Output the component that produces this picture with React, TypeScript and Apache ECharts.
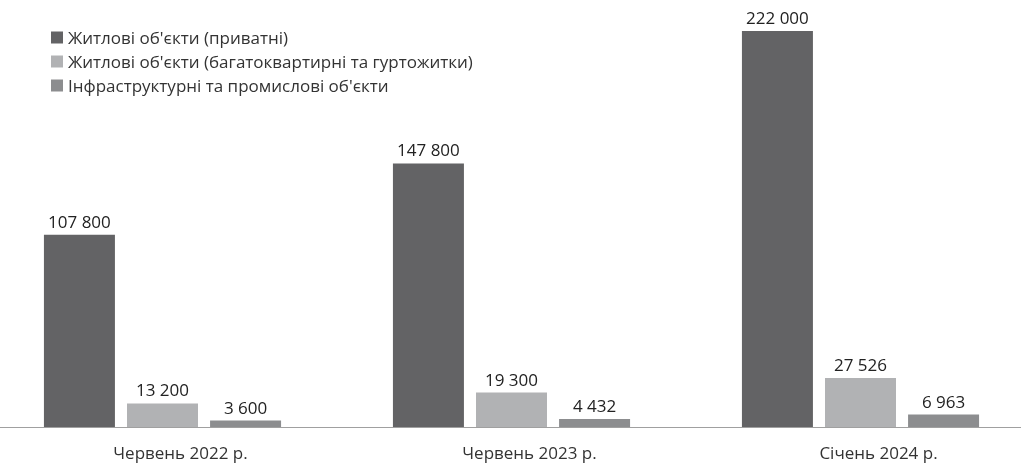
import React, { useEffect, useRef } from "react";
import * as echarts from "echarts";

const categories = ["Червень 2022 р.", "Червень 2023 р.", "Січень 2024 р."];
const seriesNames = [
  "Житлові об'єкти (приватні)",
  "Житлові об'єкти (багатоквартирні та гуртожитки)",
  "Інфраструктурні та промислові об'єкти",
];
const privateHousing = [107800, 147800, 222000];
const apartmentHousing = [13200, 19300, 27526];
const infrastructure = [3600, 4432, 6963];
const colors = ["#636365", "#b1b2b4", "#8c8d8f"];

const fmt = (v: number) => String(v).replace(/\B(?=(\d{3})+(?!\d))/g, " ");
const FONT = "'Open Sans', 'Noto Sans', sans-serif";

export default function App() {
  const ref = useRef<HTMLDivElement>(null);
  useEffect(() => {
    if (!ref.current) return;
    const chart = echarts.init(ref.current, null, { renderer: "svg" });
    const values = [privateHousing, apartmentHousing, infrastructure];
    chart.setOption({
      animation: false,
      textStyle: { fontFamily: FONT },
      legend: {
        orient: "vertical",
        left: 46,
        top: 24,
        itemWidth: 12,
        itemHeight: 12,
        itemGap: 7,
        icon: "rect",
        textStyle: { fontSize: 17, color: "#333", fontFamily: FONT },
        data: seriesNames,
      },
      grid: { left: -12, right: -14, top: -1, bottom: 37, outerBoundsMode: "none" },
      xAxis: {
        type: "category",
        data: categories,
        axisLine: { show: true, lineStyle: { color: "#a0a0a0", width: 1 } },
        axisTick: { show: false },
        axisLabel: {
          fontSize: 17,
          lineHeight: 18,
          color: "#333",
          margin: 16,
          padding: [0, 0, 0, 36],
          fontFamily: FONT,
        },
      },
      yAxis: {
        type: "value",
        min: 0,
        max: 240000,
        show: false,
        splitLine: { show: false },
      },
      series: values.map((d, i) => ({
        name: seriesNames[i],
        type: "bar",
        data: d,
        barWidth: 71,
        barGap: "17%",
        itemStyle: { color: colors[i] },
        label: {
          show: true,
          position: "top",
          distance: 5,
          fontSize: 17,
          color: "#222",
          fontFamily: FONT,
          formatter: (p: any) => fmt(p.value),
        },
      })),
    });
    return () => chart.dispose();
  }, []);
  return (
    <div
      ref={ref}
      style={{ position: "fixed", left: 0, top: 0, width: 1021, height: 464 }}
    />
  );
}
